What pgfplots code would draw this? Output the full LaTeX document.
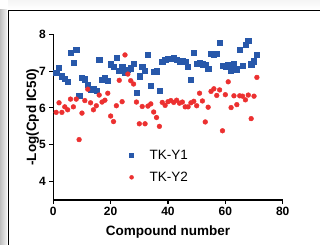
\documentclass[border=0pt]{standalone}
\usepackage{fontspec}
\setmainfont{Liberation Sans}
\usepackage{pgfplots}
\usepackage{pgfplotstable}
\pgfplotsset{compat=1.18}
\definecolor{tkblue}{RGB}{40,88,170}
\definecolor{tkred}{RGB}{236,48,48}
\pgfplotstableread{
x y
1 6.95
2 7.09
3 6.86
4 6.79
5 6.72
6 7.50
7 7.23
8 7.59
9 6.33
10 6.83
11 6.78
12 6.63
13 6.51
14 6.51
15 6.47
16 7.30
17 6.77
18 6.81
19 6.73
20 7.19
21 7.12
22 7.36
23 7.02
24 7.13
25 6.96
26 7.04
27 7.08
28 7.20
29 6.41
30 6.86
31 7.11
32 7.01
33 7.44
34 6.60
35 6.99
36 7.00
37 6.46
38 7.26
39 7.30
40 7.33
41 7.33
42 7.36
43 7.30
44 7.27
45 7.27
46 7.26
47 7.12
48 6.77
49 7.49
50 7.20
51 7.22
52 7.19
53 7.17
54 7.07
55 7.47
56 7.45
57 7.47
58 7.78
59 7.14
60 7.12
61 7.18
62 7.01
63 7.19
64 7.05
65 7.59
66 7.15
67 7.72
68 7.82
69 7.19
70 7.27
71 7.44
}\tkyone
\pgfplotstableread{
x y
1 5.88
2 6.14
3 5.88
4 6.03
5 5.95
6 6.24
7 6.03
8 6.24
9 5.14
10 5.86
11 6.20
12 6.51
13 6.14
14 5.95
15 6.06
16 6.35
17 6.16
18 6.21
19 6.40
20 5.78
21 5.63
22 6.06
23 6.75
24 6.17
25 7.44
26 6.92
27 6.74
28 6.65
29 6.16
30 5.57
31 6.04
32 5.57
33 6.05
34 6.11
35 5.89
36 5.74
37 5.50
38 6.15
39 6.07
40 6.17
41 6.20
42 6.15
43 6.21
44 6.13
45 6.16
46 6.03
47 6.03
48 6.14
49 6.18
50 6.06
51 6.40
52 6.19
53 5.62
54 6.02
55 6.45
56 6.52
57 6.34
58 6.49
59 5.38
60 6.36
61 6.71
62 6.01
63 6.33
64 6.09
65 6.33
66 6.32
67 6.22
68 6.35
69 5.71
70 6.32
71 6.83
}\tkytwo
\begin{document}
\begin{tikzpicture}[x=1pt,y=1pt]
\useasboundingbox (0,0) rectangle (320,-245);
\shade[left color=gray!50, right color=gray!10] (0,-10) rectangle (7,-245);
\shade[top color=gray!8, bottom color=white] (8,0) rectangle (320,-9);
\draw[line width=1.6pt] (8.5,-245) -- (8.5,-10.5) -- (320,-10.5);
\begin{axis}[
  at={(53.3pt,-200pt)}, anchor=south west,
  scale only axis, width=229.4pt, height=165.7pt,
  xmin=0, xmax=80, ymin=3.5, ymax=8,
  axis x line*=bottom, axis y line*=left,
  axis line style={-, line width=1.1pt},
  xtick={0,20,40,60,80}, ytick={4,5,6,7,8},
  tick align=outside, major tick length=4pt,
  tick style={line width=1.1pt, black},
  /pgf/number format/assume math mode=true,
  ticklabel style={font=\bfseries\fontsize{12}{12}\selectfont},
  xlabel={Compound number},
  ylabel={-Log(Cpd IC50)},
  label style={font=\bfseries\fontsize{13.5}{13.5}\selectfont},
  xlabel style={at={(axis description cs:0.5,0)}, anchor=base, yshift=-35pt},
  ylabel style={at={(axis description cs:-0.075,0.5)}, anchor=base},
  clip=false,
  legend style={draw=none, fill=none, at={(axis cs:24.8,4.97)}, anchor=north west,
    font=\fontsize{13.5}{13.5}\selectfont, row sep=7pt},
  legend cell align=left,
  legend image code/.code={\draw[#1, mark size=2pt] plot[only marks] coordinates {(0pt,0pt)}; \path[draw=none,fill=none] (-4pt,0pt) -- (16pt,0pt);},
]
\addplot[only marks, mark=square*, mark size=2.6pt, color=tkblue] table {\tkyone};
\addlegendentry{TK-Y1}
\addplot[only marks, mark=*, mark size=2.4pt, color=tkred] table {\tkytwo};
\addlegendentry{TK-Y2}
\end{axis}
\end{tikzpicture}
\end{document}
